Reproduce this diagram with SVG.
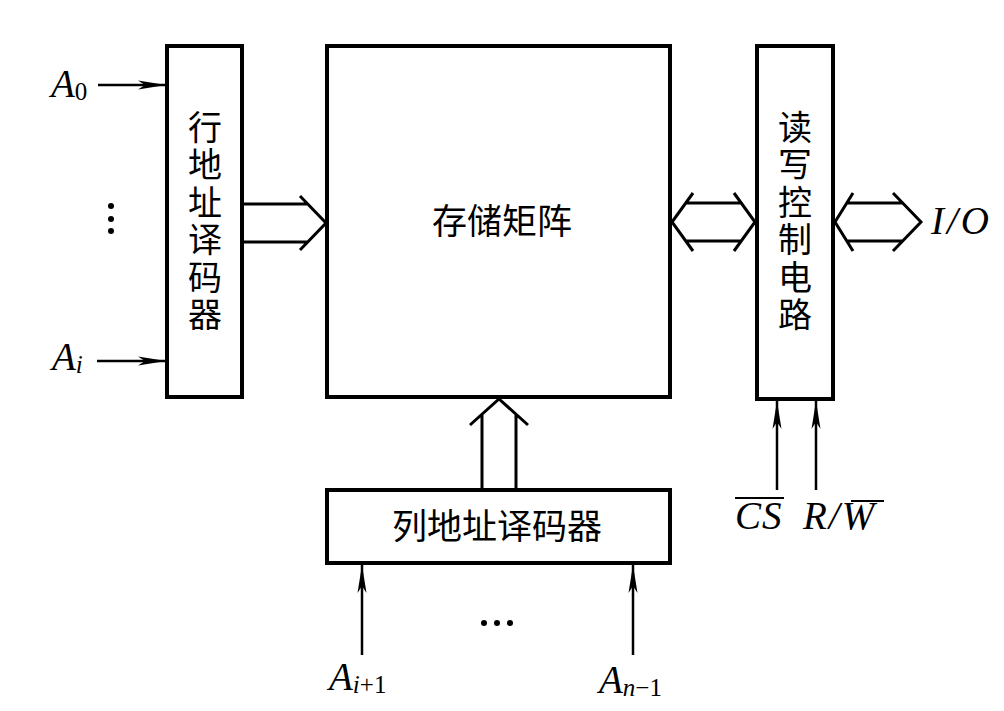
<svg xmlns="http://www.w3.org/2000/svg" width="1004" height="711" viewBox="0 0 1004 711">
<style>
.box{fill:none;stroke:#000;stroke-width:4}
.ln{fill:none;stroke:#000;stroke-width:2.5}
.hl{fill:none;stroke:#000;stroke-width:3;stroke-linejoin:miter}
.cjk{font-family:"Noto Sans CJK SC","Noto Sans",sans-serif;font-size:35px;fill:#000}
.vt{font-family:"Noto Sans CJK SC","Noto Sans",sans-serif;font-size:34px;fill:#000;writing-mode:vertical-rl;letter-spacing:3.5px}
.it{font-family:"Liberation Serif",serif;font-style:italic;font-size:39px;fill:#000}
.rm{font-family:"Liberation Serif",serif;font-style:normal;font-size:25px;fill:#000}
.sub{font-family:"Liberation Serif",serif;font-style:italic;font-size:25px;fill:#000}
</style>
<defs>
<marker id="ah" markerUnits="userSpaceOnUse" markerWidth="30" markerHeight="12" refX="28" refY="6" orient="auto">
<path d="M0,1.5 L28,6 L0,10.5 L7,6 Z" fill="#000"/>
</marker>
</defs>
<rect width="1004" height="711" fill="#fff"/>

<g id="row-decoder">
<rect class="box" x="167" y="46" width="75" height="351"/>
<text class="vt" x="205" y="110">行地址译码器</text>
</g>

<g id="memory-array">
<rect class="box" x="327" y="46" width="343" height="351"/>
<text class="cjk" text-anchor="middle" x="502" y="234">存储矩阵</text>
</g>

<g id="rw-control">
<rect class="box" x="757" y="46" width="76" height="353"/>
<text class="vt" x="795" y="110">读写控制电路</text>
</g>

<g id="col-decoder">
<rect class="box" x="327" y="490" width="343" height="73"/>
<text class="cjk" text-anchor="middle" x="497" y="539">列地址译码器</text>
</g>

<g id="labels">
<text class="it" x="51" y="97">A<tspan class="rm" dy="3">0</tspan></text>
<text class="it" x="52" y="370">A<tspan class="sub" dy="3">i</tspan></text>
<circle cx="111" cy="206" r="3"/>
<circle cx="111" cy="219" r="3"/>
<circle cx="111" cy="231" r="3"/>
<text class="it" x="931" y="234" letter-spacing="3">I/O</text>
<text class="it" x="735" y="529" letter-spacing="1">CS</text>
<line x1="735" y1="498" x2="784" y2="498" stroke="#000" stroke-width="2"/>
<text class="it" x="803" y="529" letter-spacing="2">R/W</text>
<line x1="851" y1="501" x2="884" y2="501" stroke="#000" stroke-width="2"/>
<text class="it" x="329" y="690">A<tspan class="sub" dy="3">i</tspan><tspan class="rm">+1</tspan></text>
<text class="it" x="599" y="693">A<tspan class="sub" dy="3">n</tspan><tspan class="rm">−1</tspan></text>
<circle cx="484" cy="623" r="3"/>
<circle cx="497" cy="623" r="3"/>
<circle cx="510" cy="623" r="3"/>
</g>

<g id="connectors">
<line class="ln" x1="98" y1="85" x2="166" y2="85" marker-end="url(#ah)"/>
<line class="ln" x1="97" y1="361" x2="166" y2="361" marker-end="url(#ah)"/>
<path class="hl" d="M243,204 H308 M243,242 H308 M300,196 L326,223 L300,250"/>
<path class="hl" d="M693,193 L672,222 L693,251 M686,203 H741 M686,241 H741 M734,193 L755,222 L734,251"/>
<path class="hl" d="M853,193 L835,222 L853,251 M847,203 H903 M847,241 H903 M893,193 L921,222 L893,251"/>
<path class="hl" d="M482,490 V414 M516,490 V414 M470,425 L499,399 L528,425"/>
<line class="ln" x1="777" y1="490" x2="777" y2="401" marker-end="url(#ah)"/>
<line class="ln" x1="816" y1="490" x2="816" y2="401" marker-end="url(#ah)"/>
<line class="ln" x1="362" y1="655" x2="362" y2="565" marker-end="url(#ah)"/>
<line class="ln" x1="633" y1="655" x2="633" y2="565" marker-end="url(#ah)"/>
</g>
</svg>
